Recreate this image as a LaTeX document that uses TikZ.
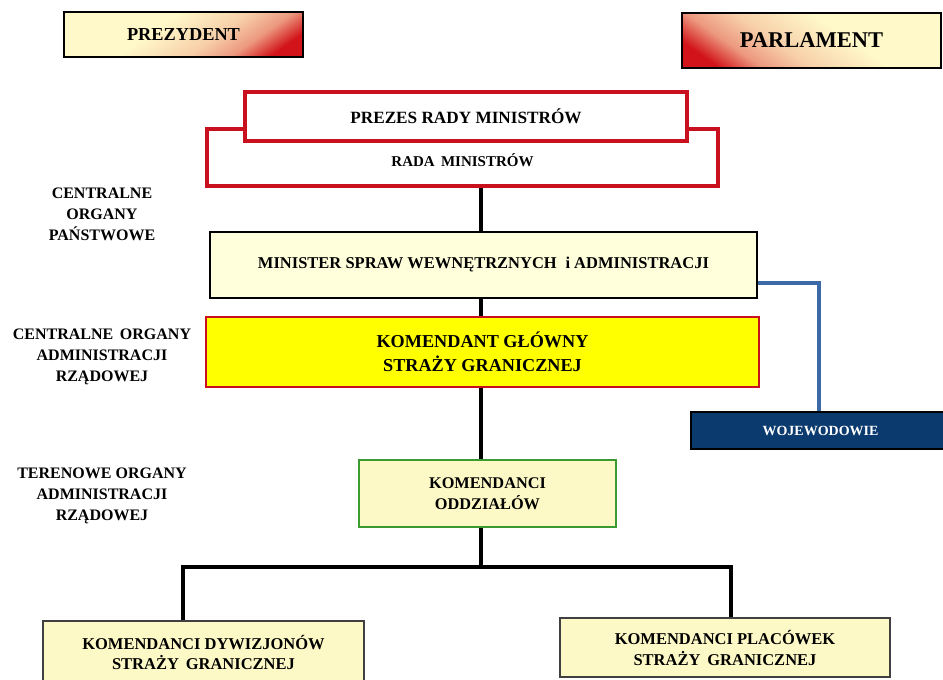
\documentclass[tikz,border=0pt]{standalone}
\usepackage{fontspec}
\setmainfont{Liberation Serif}
\usepackage{tikz}
\usetikzlibrary{positioning}

\definecolor{paleyellow}{HTML}{FFF8C8}
\definecolor{boxred}{HTML}{D2141A}
\definecolor{framered}{HTML}{C8101E}
\definecolor{cream}{HTML}{FFFFDC}
\definecolor{creambox}{HTML}{FDF9C6}
\definecolor{lemon}{HTML}{FFFF00}
\definecolor{navy}{HTML}{0B3A6F}
\definecolor{steel}{HTML}{3C6AA6}
\definecolor{leaf}{HTML}{3B9A30}

\pgfdeclarehorizontalshading{warmcorner}{100bp}{color(0bp)=(paleyellow); color(42bp)=(paleyellow);
  color(58bp)=(paleyellow!82!boxred); color(68bp)=(paleyellow!58!boxred); color(77bp)=(boxred); color(100bp)=(boxred)}

\newcommand{\fsz}[2]{\bfseries\fontsize{#1}{#2}\selectfont}

\tikzset{
  box/.style={draw, inner sep=0pt, align=center},
  warmbox/.style={box, line width=1.8pt, shade, shading=warmcorner},
  conn/.style={line width=3.5pt, black},
  wojline/.style={line width=3.2pt, steel},
  side/.style={align=center, font=\fsz{16}{21}},
}

\begin{document}
\begin{tikzpicture}[x=1pt, y=-1pt]
    \useasboundingbox (0,0) rectangle (943,680);
    % Top corner boxes
    \node[warmbox, shading angle=-55, minimum width=239, minimum height=45,
          font=\fsz{18.3}{20}] (prezydent) at (183.5,34.5) {PREZYDENT};
    \node[warmbox, shading angle=235, minimum width=259, minimum height=55,
          font=\fsz{22.5}{24}] (parlament) at (811.5,40.5) {PARLAMENT};
    % Government
    \node[box, draw=framered, line width=3.2pt, fill=white, minimum width=511,
          minimum height=57, text height=18pt, font=\fsz{15}{18}] (rada) at (462.5,157.5) {RADA\, MINISTRÓW};
    \node[box, draw=framered, line width=3.2pt, fill=white, minimum width=442,
          minimum height=49, font=\fsz{17.2}{20}] (prezes) at (466,116.5) {PREZES RADY MINISTRÓW};
    \node[box, line width=2.4pt, fill=cream, minimum width=547, minimum height=66,
          font=\fsz{16.5}{20}] (minister) at (483.5,265) {MINISTER SPRAW WEWNĘTRZNYCH\; i ADMINISTRACJI};
    \node[box, draw=framered, line width=1.8pt, fill=lemon, minimum width=553, minimum height=70,
          font=\fsz{18.2}{24}] (kg) at (482.5,352) {KOMENDANT GŁÓWNY\\STRAŻY GRANICZNEJ};
    \node[box, line width=1.8pt, fill=navy, text=white, minimum width=259, minimum height=37,
          font=\fsz{14}{16}] (woj) at (820.5,430.5) {WOJEWODOWIE};
    % Border guard units
    \node[box, draw=leaf, line width=1.8pt, fill=creambox, minimum width=257, minimum height=67,
          font=\fsz{16.3}{20.5}] (odz) at (487.5,493.5) {KOMENDANCI\\ODDZIAŁÓW};
    \node[box, draw=black!75, line width=1.4pt, fill=creambox, minimum width=321, minimum height=62,
          font=\fsz{16.5}{20}] (dyw) at (203.5,652) {KOMENDANCI DYWIZJONÓW\\STRAŻY\, GRANICZNEJ};
    \node[box, draw=black!75, line width=1.4pt, fill=creambox, minimum width=330, minimum height=59,
          font=\fsz{16.5}{21}] (plac) at (725,647.5) {KOMENDANCI PLACÓWEK\\STRAŻY\, GRANICZNEJ};
    % Labels on the left
    \node[side] (cop) at (102,214) {CENTRALNE\\ORGANY\\PAŃSTWOWE};
    \node[side] (coar) at (102,357) {CENTRALNE\, ORGANY\\ADMINISTRACJI\\RZĄDOWEJ};
    \node[side] (toar) at (102,496) {TERENOWE ORGANY\\ADMINISTRACJI\\RZĄDOWEJ};
    % Connectors
    \coordinate (forkL) at (183,567);
    \coordinate (fork) at (481,567);
    \coordinate (forkR) at (731,567);
    \coordinate (wojx) at (819,0);
    \draw[conn] (rada.south -| fork) -- (minister.north -| fork);
    \draw[conn] (minister.south -| fork) -- (kg.north -| fork);
    \draw[conn] (kg.south -| fork) -- (odz.north -| fork);
    \draw[conn] (odz.south -| fork) -- (fork);
    \draw[conn] (dyw.north -| forkL) -- (forkL) -- (forkR) -- (plac.north -| forkR);
    \draw[wojline] ([yshift=-18pt]minister.east) -| (woj.north -| wojx);
\end{tikzpicture}
\end{document}
